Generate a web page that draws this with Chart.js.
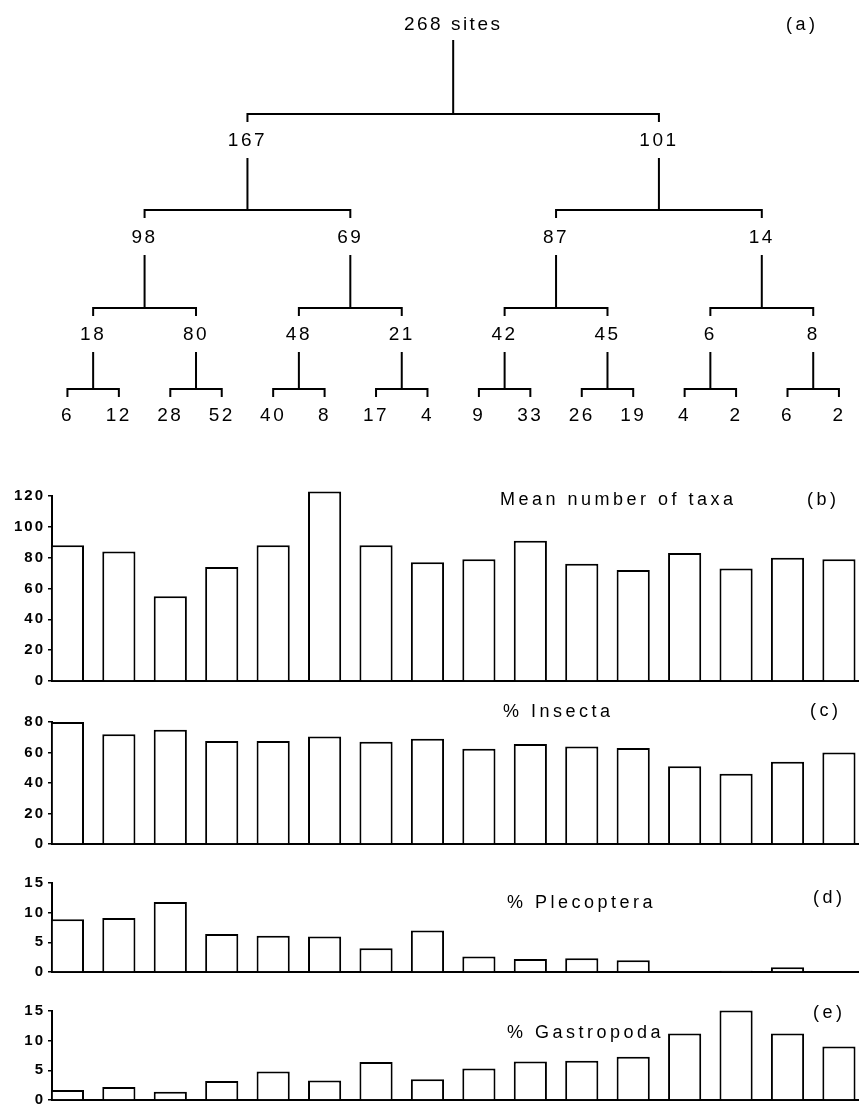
<!DOCTYPE html>
<html>
<head>
<meta charset="utf-8">
<script src="https://cdn.jsdelivr.net/npm/chart.js@4.4.1/dist/chart.umd.min.js"></script>
<style>
  body { margin: 0; background: #fff; }
  #page { position: relative; width: 859px; height: 1114px; background: #fff; }
  #page canvas { position: absolute; left: 0; }
</style>
</head>
<body>
<div id="page">
  <canvas id="tree" width="859" height="450" style="top:0px"></canvas>
  <canvas id="taxa" width="859" height="228" style="top:465px"></canvas>
  <canvas id="insecta" width="859" height="156" style="top:700px"></canvas>
  <canvas id="plecoptera" width="859" height="116" style="top:868px"></canvas>
  <canvas id="gastropoda" width="859" height="117" style="top:995px"></canvas>
</div>
<script>
// cluster sizes in the dendrogram, root first, then each split level
const rootSize = 268;
const level1Sizes = [167, 101];
const level2Sizes = [98, 69, 87, 14];
const level3Sizes = [18, 80, 48, 21, 42, 45, 6, 8];
const groupSizes = [6, 12, 28, 52, 40, 8, 17, 4, 9, 33, 26, 19, 4, 2, 6, 2];

// one bar per end group, same order as groupSizes
const groups = groupSizes.map((n, i) => i + 1);
const meanTaxa = [88, 84, 55, 74, 88, 123, 88, 77, 79, 91, 76, 72, 83, 73, 80, 79];
const pctInsecta = [80, 72, 75, 67.5, 67.5, 70.5, 67, 69, 62.5, 65.5, 64, 63, 51, 46, 54, 60];
const pctPlecoptera = [8.9, 9.1, 11.8, 6.4, 6.1, 6.0, 4.0, 7.0, 2.6, 2.2, 2.3, 2.0, 0, 0.2, 0.8, 0];
const pctGastropoda = [1.7, 2.2, 1.4, 3.2, 4.8, 3.3, 6.4, 3.5, 5.3, 6.5, 6.6, 7.3, 11.2, 15.1, 11.2, 9.0];

Chart.defaults.font.family = '"Liberation Sans", Arial, sans-serif';
Chart.defaults.color = '#000';

function contextFor(id) {
    return document.getElementById(id).getContext('2d');
}

// same x range everywhere so the tree leaves sit over the bars
const groupAxis = {type: 'linear', min: 0.7, max: 16.39, offset: false};

// ---- (a) dendrogram ----
const levels = [[rootSize], level1Sizes, level2Sizes, level3Sizes, groupSizes];
const treeRows = {labelY: [25, 141, 238, 335, 416], joinY: [114, 210, 308, 389]};

function nodeX(level, k) {
    const span = Math.pow(2, 4 - level);
    return k * span + (span + 1) / 2;
}

const treeLines = [];
for (let L = 0; L < 4; L++) {
    levels[L].forEach((n, k) => {
        const x = nodeX(L, k);
        const xl = nodeX(L + 1, 2 * k);
        const xr = nodeX(L + 1, 2 * k + 1);
        const top = treeRows.labelY[L] + (L === 0 ? 15 : 17);
        const join = treeRows.joinY[L];
        treeLines.push({data: [{x: x, y: top}, {x: x, y: join}]});
        treeLines.push({data: [{x: xl, y: join + 8}, {x: xl, y: join}, {x: xr, y: join}, {x: xr, y: join + 8}]});
    });
}
treeLines.forEach(d => Object.assign(d, {showLine: true, borderColor: '#000', borderWidth: 2, pointRadius: 0, fill: false}));

const treeLabels = {
    id: 'treeLabels',
    afterDatasetsDraw(chart) {
        const {ctx, scales: {x, y}} = chart;
        ctx.save();
        ctx.font = '19px "Liberation Sans", Arial, sans-serif';
        ctx.letterSpacing = '2.5px';
        ctx.fillStyle = '#000';
        ctx.textAlign = 'center';
        ctx.textBaseline = 'middle';
        levels.forEach((sizes, L) => sizes.forEach((n, k) => {
            const text = L === 0 ? n + ' sites' : String(n);
            ctx.fillText(text, x.getPixelForValue(nodeX(L, k)), y.getPixelForValue(treeRows.labelY[L]));
        }));
        ctx.font = '18px "Liberation Sans", Arial, sans-serif';
        ctx.letterSpacing = '3.5px';
        ctx.textAlign = 'left';
        ctx.fillText('(a)', 786, 25);
        ctx.restore();
    }
};

new Chart(contextFor('tree'), {
    type: 'scatter',
    data: {datasets: treeLines},
    options: {
        responsive: false,
        animation: false,
        layout: {padding: {left: 52, right: 0, top: 0, bottom: 0}},
        plugins: {legend: {display: false}, tooltip: {enabled: false}},
        scales: {
            x: Object.assign({display: false}, groupAxis),
            y: {display: false, min: 0, max: 450, reverse: true}
        }
    },
    plugins: [treeLabels]
});

// ---- (b)-(e) bar panels ----
const panelText = {
    id: 'panelText',
    beforeDraw(chart) {
        chart.ctx.letterSpacing = '2px';
    },
    afterDraw(chart, args, opts) {
        const ctx = chart.ctx;
        ctx.save();
        ctx.font = '18px "Liberation Sans", Arial, sans-serif';
        ctx.letterSpacing = '3.5px';
        ctx.fillStyle = '#000';
        ctx.textAlign = 'left';
        ctx.textBaseline = 'middle';
        ctx.fillText(opts.title, opts.titleX, opts.titleY);
        ctx.fillText(opts.letter, opts.letterX, opts.letterY);
        ctx.restore();
    }
};

function barPanel(id, values, yMax, step, text) {
    return new Chart(contextFor(id), {
        type: 'bar',
        data: {
            datasets: [{
                data: values.map((v, i) => ({x: groups[i], y: v})),
                backgroundColor: '#fff', borderColor: '#000', borderWidth: 2,
                borderSkipped: 'bottom', barPercentage: 0.645, categoryPercentage: 1, clip: false
            }]
        },
        options: {
            responsive: false,
            animation: false,
            layout: {padding: {top: text.padTop, bottom: 2, left: 0, right: 0}},
            plugins: {legend: {display: false}, tooltip: {enabled: false}, panelText: text},
            scales: {
                x: Object.assign({
                    ticks: {display: false},
                    grid: {display: false, offset: false},
                    border: {display: true, color: '#000', width: 2},
                    afterFit: s => { s.height = 4; }
                }, groupAxis),
                y: {
                    min: 0, max: yMax,
                    ticks: {stepSize: step, color: '#000', padding: 3, font: {size: 15, weight: 'bold'}},
                    grid: {drawOnChartArea: false, color: '#000', lineWidth: 1.5, tickLength: 4},
                    border: {color: '#000', width: 2},
                    afterFit: s => { s.width = 52; }
                }
            }
        },
        plugins: [panelText]
    });
}

barPanel('taxa', meanTaxa, 120, 20,
    {padTop: 31, title: 'Mean number of taxa', titleX: 500, titleY: 35, letter: '(b)', letterX: 807, letterY: 35});
barPanel('insecta', pctInsecta, 80, 20,
    {padTop: 22, title: '% Insecta', titleX: 503, titleY: 12, letter: '(c)', letterX: 810, letterY: 11});
barPanel('plecoptera', pctPlecoptera, 15, 5,
    {padTop: 15, title: '% Plecoptera', titleX: 507, titleY: 35, letter: '(d)', letterX: 813, letterY: 30});
barPanel('gastropoda', pctGastropoda, 15, 5,
    {padTop: 16, title: '% Gastropoda', titleX: 507, titleY: 38, letter: '(e)', letterX: 813, letterY: 18});
</script>
</body>
</html>
